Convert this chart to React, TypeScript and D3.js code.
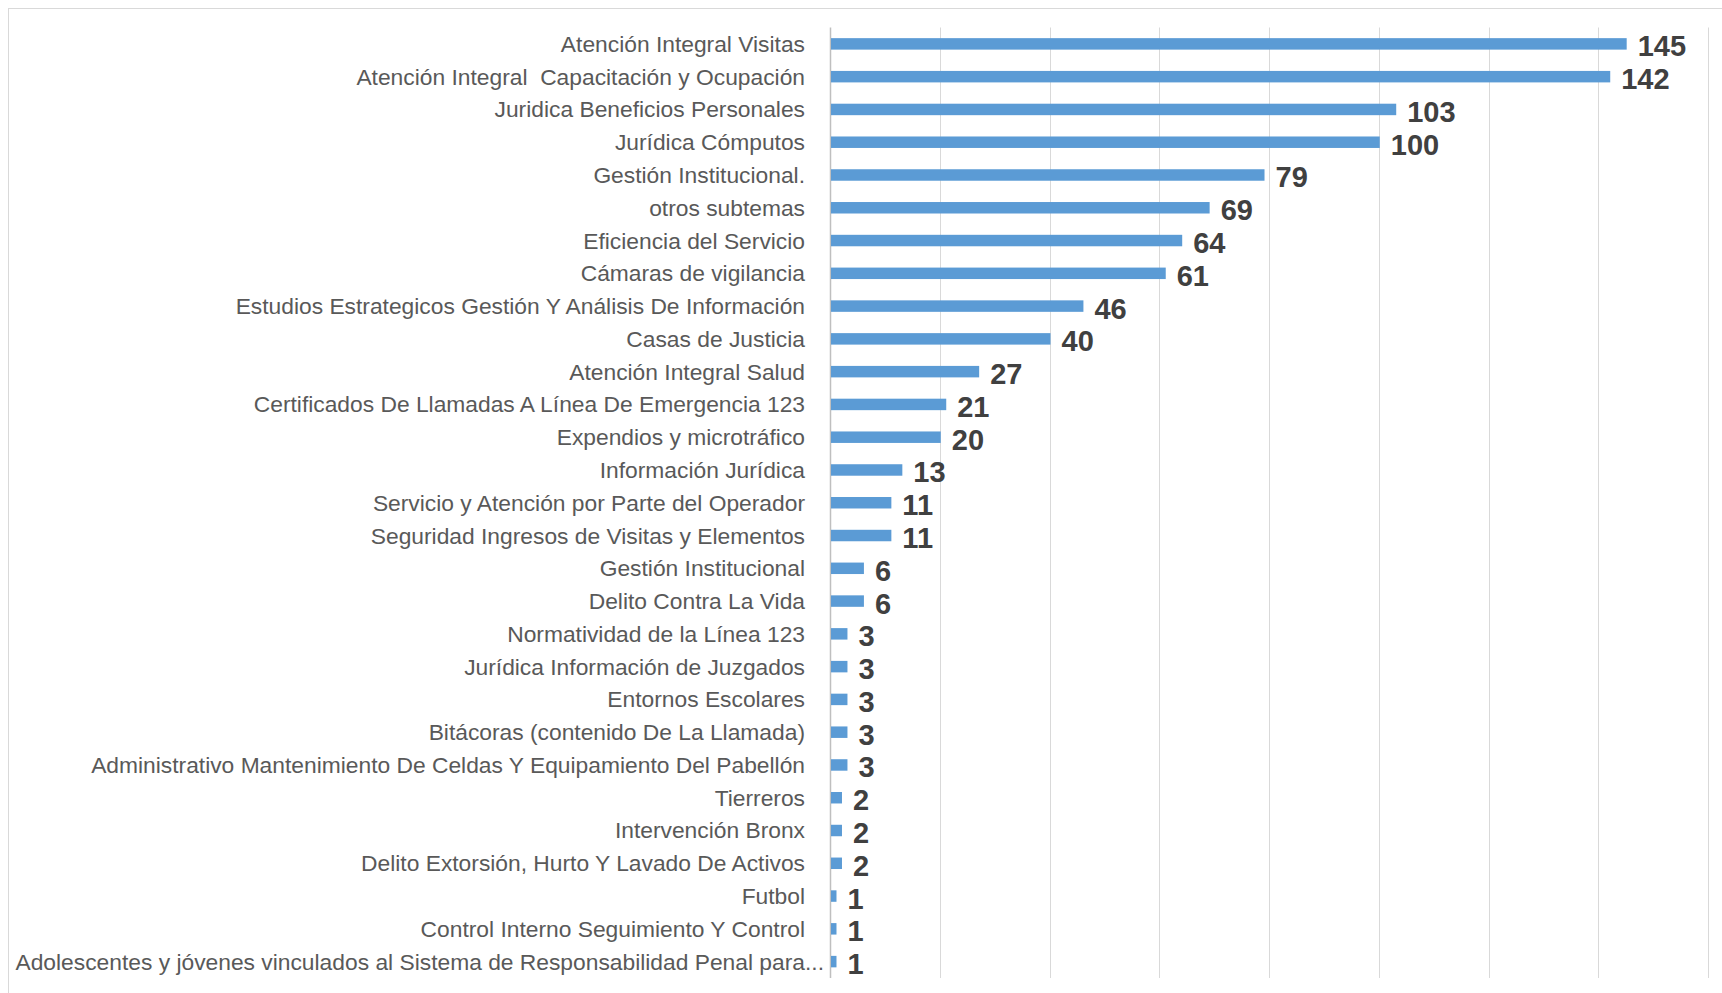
import React from "react";
import * as d3 from "d3";

const categories: string[] = [
  "Atención Integral Visitas",
  "Atención Integral  Capacitación y Ocupación",
  "Juridica Beneficios Personales",
  "Jurídica Cómputos",
  "Gestión Institucional.",
  "otros subtemas",
  "Eficiencia del Servicio",
  "Cámaras de vigilancia",
  "Estudios Estrategicos Gestión Y Análisis De Información",
  "Casas de Justicia",
  "Atención Integral Salud",
  "Certificados De Llamadas A Línea De Emergencia 123",
  "Expendios y microtráfico",
  "Información Jurídica",
  "Servicio y Atención por Parte del Operador",
  "Seguridad Ingresos de Visitas y Elementos",
  "Gestión Institucional",
  "Delito Contra La Vida",
  "Normatividad de la Línea 123",
  "Jurídica Información de Juzgados",
  "Entornos Escolares",
  "Bitácoras (contenido De La Llamada)",
  "Administrativo Mantenimiento De Celdas Y Equipamiento Del Pabellón",
  "Tierreros",
  "Intervención Bronx",
  "Delito Extorsión, Hurto Y Lavado De Activos",
  "Futbol",
  "Control Interno Seguimiento Y Control",
  "Adolescentes y jóvenes vinculados al Sistema de Responsabilidad Penal para...",
];

const values: number[] = [
  145, 142, 103, 100, 79, 69, 64, 61, 46, 40, 27, 21, 20, 13, 11, 11, 6, 6, 3, 3, 3, 3, 3, 2, 2, 2, 1, 1, 1,
];

const xTicks: number[] = [0, 20, 40, 60, 80, 100, 120, 140, 160];

const W = 1722;
const H = 993;
const plot = { left: 830, right: 1708, top: 27.5, bottom: 978 };

export default function App() {
  const x = d3.scaleLinear().domain([0, 160]).range([plot.left, plot.right]);
  const y = d3
    .scaleBand<string>()
    .domain(categories)
    .range([plot.top, plot.bottom])
    .paddingInner(0.65)
    .paddingOuter(0.325);
  const labelFont = "'Liberation Sans', Arial, sans-serif";
  const labelSize = 22.8;
  return (
    <div style={{ position: "fixed", left: 0, top: 0, width: W, height: H, overflow: "hidden", background: "#fff" }}>
      <svg width={W} height={H} style={{ display: "block" }}>
        <rect x={8.5} y={8.5} width={1800} height={1100} fill="#fff" stroke="#d9d9d9" strokeWidth={1} />
        {xTicks.map((t) => (
          <line
            key={t}
            x1={Math.round(x(t)) + 0.5}
            x2={Math.round(x(t)) + 0.5}
            y1={plot.top}
            y2={plot.bottom}
            stroke={t === 0 ? "#bfbfbf" : "#d9d9d9"}
            strokeWidth={t === 0 ? 1.5 : 1}
          />
        ))}
        {categories.map((c, i) => {
          const yc = (y(c) as number) + y.bandwidth() / 2;
          const ell = c.endsWith("...");
          const main = ell ? c.slice(0, -3) : c;
          return (
            <g key={c}>
              <rect
                x={x(0) + 1}
                y={y(c) as number}
                width={x(values[i]) - x(0)}
                height={y.bandwidth()}
                fill="#5b9bd5"
              />
              <text
                x={805}
                y={yc}
                dy="0.35em"
                textAnchor="end"
                fontFamily={labelFont}
                fontSize={labelSize}
                fill="#595959"
                style={{ whiteSpace: "pre" }}
              >
                {main}
              </text>
              {ell && (
                <text x={805} y={yc} dy="0.35em" fontFamily={labelFont} fontSize={labelSize} fill="#595959">
                  ...
                </text>
              )}
              <text
                x={x(values[i]) + 12}
                y={yc + 2}
                dy="0.36em"
                fontFamily={labelFont}
                fontWeight="bold"
                fontSize={29}
                fill="#404040"
              >
                {values[i]}
              </text>
            </g>
          );
        })}
      </svg>
    </div>
  );
}
